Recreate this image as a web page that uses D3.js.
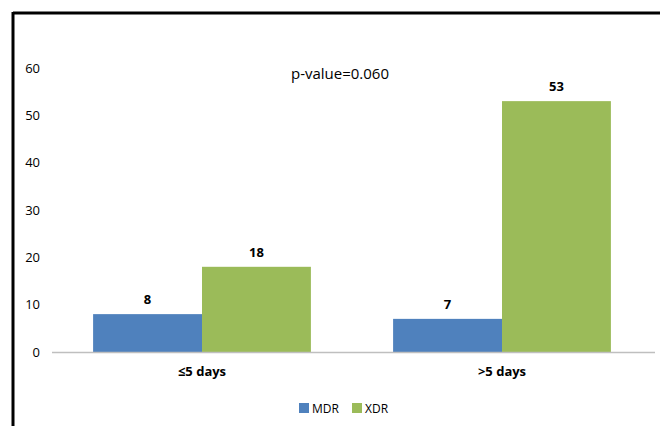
<!DOCTYPE html>
<html>
<head>
<meta charset="utf-8">
<script src="https://cdn.jsdelivr.net/npm/d3@7/dist/d3.min.js"></script>
<style>
  html, body { margin: 0; padding: 0; background: #fff; }
  svg { display: block; font-family: "Open Sans", "Noto Sans", sans-serif; }
</style>
</head>
<body>
<svg id="chart" width="660" height="426"></svg>
<script>
const categories = ["≤5 days", ">5 days"];
const seriesNames = ["MDR", "XDR"];
const mdrValues = [8, 7];
const xdrValues = [18, 53];
const yTicks = [0, 10, 20, 30, 40, 50, 60];
const colors = ["#4F81BD", "#9BBB59"];
const annotation = "p-value=0.060";

const svg = d3.select("#chart");
const W = 660, H = 426;

// frame lines (top and left)
svg.append("line").attr("x1", 13).attr("x2", W).attr("y1", 13).attr("y2", 13)
  .attr("stroke", "#000").attr("stroke-width", 3);
svg.append("line").attr("x1", 13).attr("x2", 13).attr("y1", 12).attr("y2", H)
  .attr("stroke", "#000").attr("stroke-width", 3);

const plotLeft = 52, plotRight = 652, baseY = 352;
const y = d3.scaleLinear().domain([0, 60]).range([baseY, 68]);
const x0 = d3.scaleBand().domain(categories).range([plotLeft, plotRight]).paddingInner(0.274).paddingOuter(0.137);
const x1 = d3.scaleBand().domain(seriesNames).range([0, x0.bandwidth()]);

// y axis labels
const yAxis = d3.axisLeft(y).tickValues(yTicks).tickSize(0).tickPadding(0);
const gy = svg.append("g").attr("transform", `translate(40,0)`).call(yAxis);
gy.select(".domain").remove();
gy.selectAll("text").attr("font-size", 13).attr("fill", "#000")
  .attr("font-family", "\"Open Sans\", sans-serif");

// bars
const data = categories.map((c, i) => ({ cat: c, vals: [mdrValues[i], xdrValues[i]] }));
const groups = svg.append("g").selectAll("g").data(data).join("g")
  .attr("transform", d => `translate(${x0(d.cat)},0)`);

groups.selectAll("rect").data(d => d.vals.map((v, j) => ({ name: seriesNames[j], v, j })))
  .join("rect")
  .attr("x", d => x1(d.name))
  .attr("y", d => y(d.v))
  .attr("width", x1.bandwidth())
  .attr("height", d => baseY - y(d.v))
  .attr("fill", d => colors[d.j]);

groups.selectAll("text.val").data(d => d.vals.map((v, j) => ({ name: seriesNames[j], v, j })))
  .join("text").attr("class", "val")
  .attr("x", d => x1(d.name) + x1.bandwidth() / 2)
  .attr("y", d => y(d.v) - 10)
  .attr("text-anchor", "middle")
  .attr("font-size", 13).attr("font-weight", "bold").attr("fill", "#000")
  .text(d => d.v);

// baseline
svg.append("line").attr("x1", plotLeft).attr("x2", 655).attr("y1", baseY + 0.5).attr("y2", baseY + 0.5)
  .attr("stroke", "#BFBFBF").attr("stroke-width", 1.5);

// category axis labels
const xAxis = d3.axisBottom(x0).tickSize(0).tickPadding(0);
const gx = svg.append("g").attr("transform", `translate(0,${baseY + 15})`).call(xAxis);
gx.select(".domain").remove();
gx.selectAll("text").attr("font-size", 13).attr("font-weight", "bold").attr("fill", "#000")
  .attr("font-family", "\"Open Sans\", sans-serif").attr("dy", "0.71em");

// annotation
svg.append("text").attr("x", 340).attr("y", 79).attr("text-anchor", "middle")
  .attr("font-size", 15).attr("fill", "#000").text(annotation);

// legend
const legendItems = [{ x: 299 }, { x: 352 }];
const lg = svg.append("g").selectAll("g").data(seriesNames).join("g")
  .attr("transform", (d, i) => `translate(${legendItems[i].x},403)`);
lg.append("rect").attr("width", 10).attr("height", 10).attr("fill", (d, i) => colors[i]);
lg.append("text").attr("x", 13).attr("y", 9.5).attr("font-size", 12).attr("fill", "#000").text(d => d);
</script>
</body>
</html>
